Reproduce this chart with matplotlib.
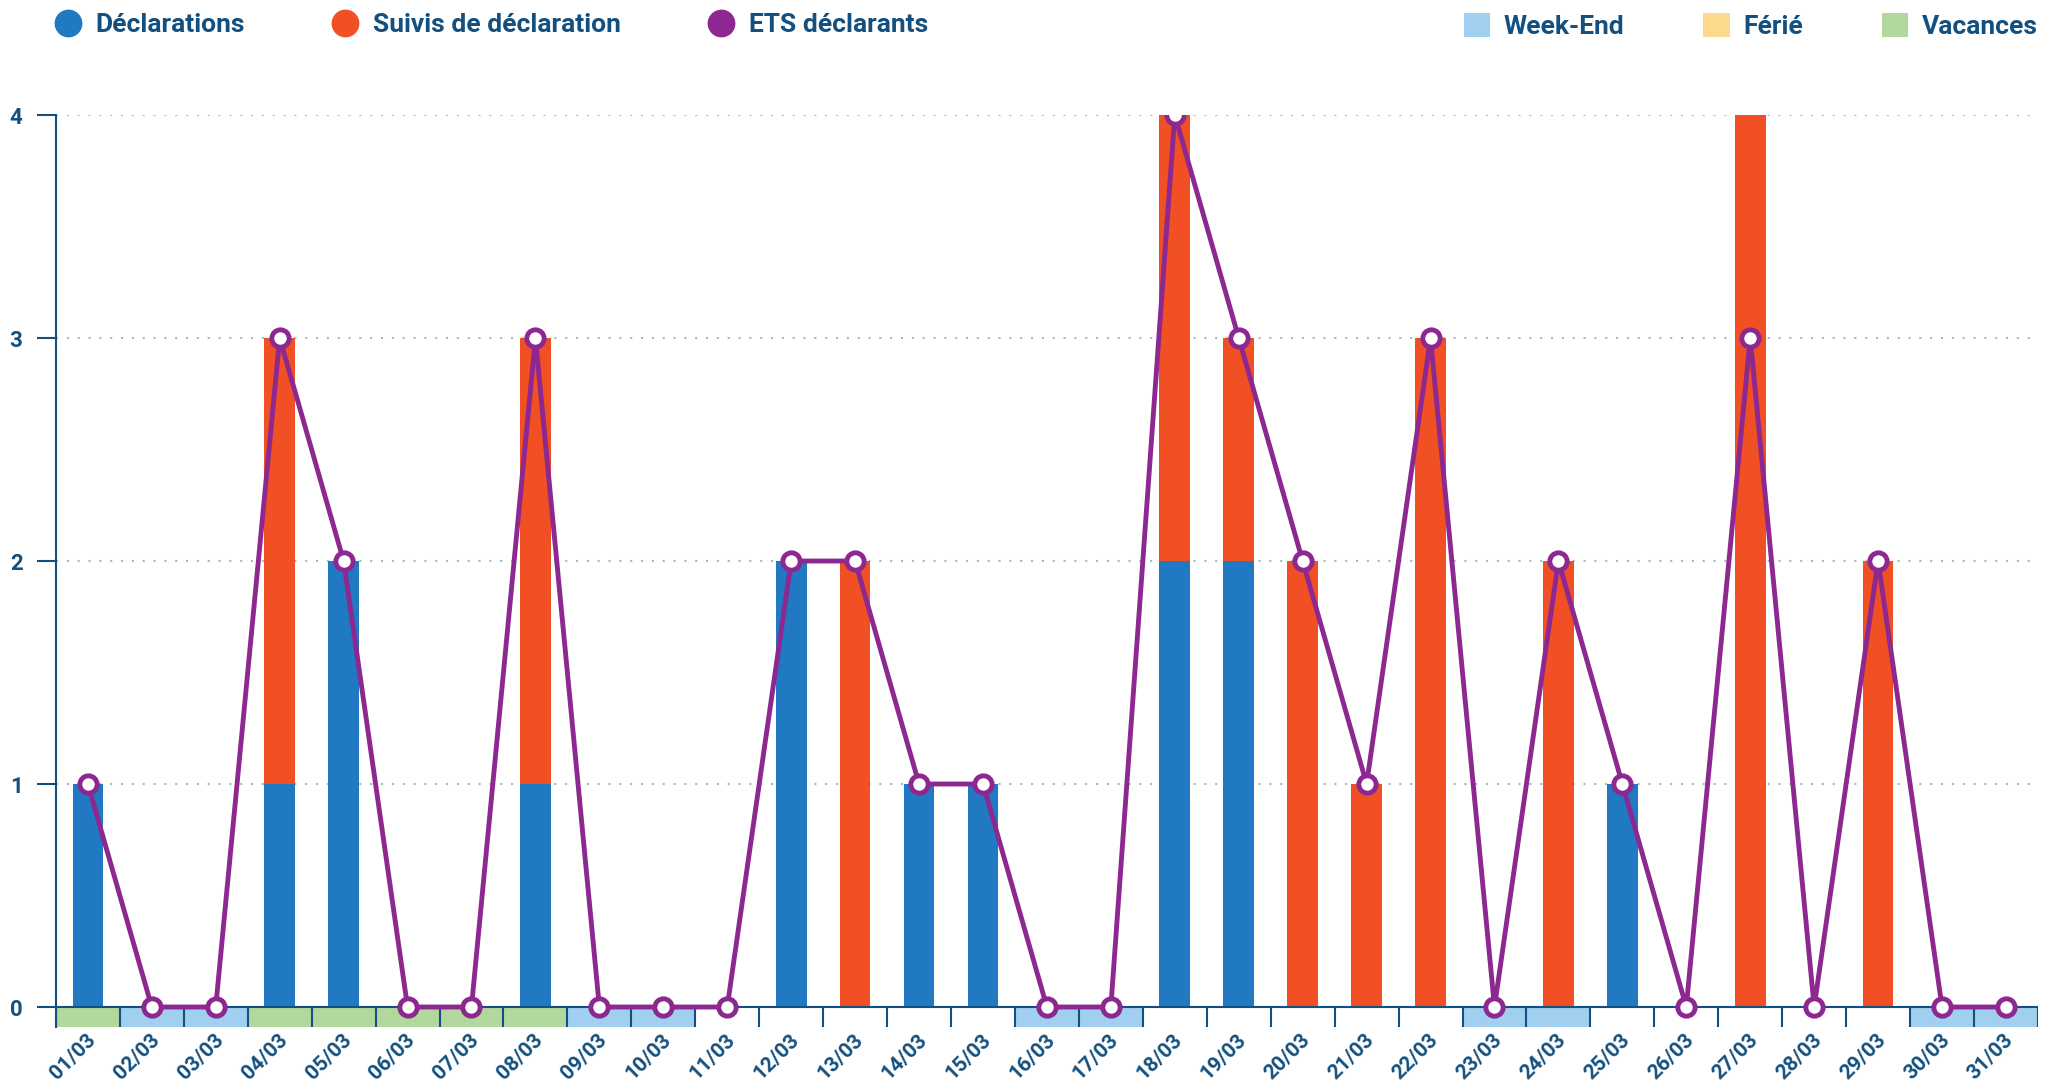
import matplotlib.pyplot as plt
import matplotlib.transforms as mtransforms
from matplotlib.lines import Line2D
from matplotlib.patches import Patch

plt.rcParams['font.family'] = ['Roboto', 'DejaVu Sans']

# Data
days = ['%02d/03' % d for d in range(1, 32)]
declarations = [1, 0, 0, 1, 2, 0, 0, 1, 0, 0, 0, 2, 0, 1, 1, 0,
                0, 2, 2, 0, 0, 0, 0, 0, 1, 0, 0, 0, 0, 0, 0]
suivis = [0, 0, 0, 2, 0, 0, 0, 2, 0, 0, 0, 0, 2, 0, 0, 0,
          0, 2, 1, 2, 1, 3, 0, 2, 0, 0, 4, 0, 2, 0, 0]
ets = [1, 0, 0, 3, 2, 0, 0, 3, 0, 0, 0, 2, 2, 1, 1, 0,
       0, 4, 3, 2, 1, 3, 0, 2, 1, 0, 3, 0, 2, 0, 0]
# day type: V = vacances, W = week-end, F = ferie, '' = normal
day_type = ['V', 'W', 'W', 'V', 'V', 'V', 'V', 'V', 'W', 'W', '', '', '', '', '', 'W',
            'W', '', '', '', '', '', 'W', 'W', '', '', '', '', '', 'W', 'W']

c_decl = '#2079c2'
c_suiv = '#f05024'
c_ets = '#8c2890'
c_we = '#a1cfef'
c_ferie = '#fdd98c'
c_vac = '#b3d89d'
c_text = '#13507f'
type_colors = {'V': c_vac, 'W': c_we, 'F': c_ferie, '': 'white'}

fig = plt.figure(figsize=(20.55, 10.8), dpi=100)
ax = fig.add_axes([0.0272, 0.049, 0.9645, 0.8445])

x = list(range(len(days)))
band_h = 0.09

# day type band under the axis
ax.bar(x, -band_h, width=1.0, bottom=0, color=[type_colors[t] for t in day_type],
       edgecolor='none', zorder=1)
ax.vlines([i - 0.5 for i in range(len(days) + 1)], -band_h, 0, color=c_text, lw=1.5, zorder=2)

# stacked bars
ax.bar(x, declarations, width=0.48, color=c_decl, zorder=3)
ax.bar(x, suivis, width=0.48, bottom=declarations, color=c_suiv, zorder=3)

# ETS line
ax.plot(x, ets, color=c_ets, lw=3.5, marker='o', markersize=12.5,
        markerfacecolor='white', markeredgecolor=c_ets, markeredgewidth=3.5, zorder=5)

ax.axhline(0, color=c_text, lw=1.5, zorder=4)

ax.set_xlim(-0.5, len(days) - 0.5)
ax.set_ylim(-band_h, 4)
ax.set_yticks([0, 1, 2, 3, 4])
ax.set_xticks(x)
ax.set_xticklabels(days, rotation=45, ha='center', va='top',
                   fontsize=15, fontweight='bold', color=c_text)
ax.tick_params(axis='x', length=0, pad=2)
shift = mtransforms.ScaledTranslation(-0.15, 0, fig.dpi_scale_trans)
for lab in ax.get_xticklabels():
    lab.set_transform(lab.get_transform() + shift)
ax.tick_params(axis='y', length=14, width=1.5, color=c_text, labelsize=16,
               labelcolor=c_text, pad=10)
for lab in ax.get_yticklabels():
    lab.set_fontweight('bold')

for s in ['top', 'right', 'bottom']:
    ax.spines[s].set_visible(False)
ax.spines['left'].set_color(c_text)
ax.spines['left'].set_linewidth(1.5)

for yv in [1, 2, 3, 4]:
    ax.axhline(yv, color='#a3b8c8', lw=1.5, linestyle=(0, (1, 4.2)), zorder=0)

# legends
h1 = [Line2D([], [], marker='o', linestyle='none', markersize=19, color=c) for c in (c_decl, c_suiv, c_ets)]
leg1 = fig.legend(h1, ['Déclarations', 'Suivis de déclaration', 'ETS déclarants'],
                  loc='upper left', bbox_to_anchor=(0.015, 1.01), ncol=3, frameon=False,
                  handlelength=1.0, handletextpad=0.55, columnspacing=3.3,
                  prop={'size': 19, 'weight': 'bold'})
for t in leg1.get_texts():
    t.set_color(c_text)

h2 = [Patch(facecolor=c, edgecolor='none') for c in (c_we, c_ferie, c_vac)]
leg2 = fig.legend(h2, ['Week-End', 'Férié', 'Vacances'],
                  loc='upper right', bbox_to_anchor=(1.003, 1.01), ncol=3, frameon=False,
                  handlelength=1.0, handleheight=1.0, handletextpad=0.5, columnspacing=3.0,
                  prop={'size': 19, 'weight': 'bold'})
for t in leg2.get_texts():
    t.set_color(c_text)

plt.savefig('out.png', dpi=100, facecolor='white')
